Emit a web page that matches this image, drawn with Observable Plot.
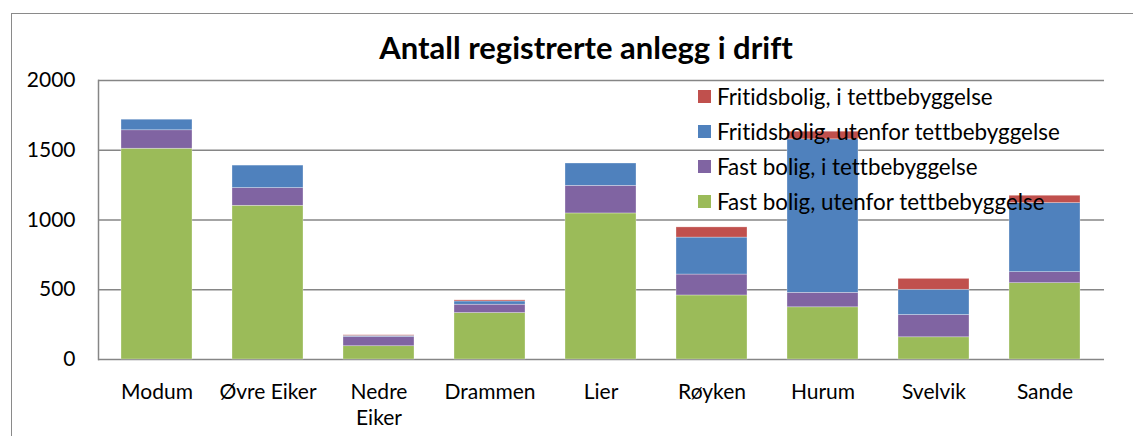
<!DOCTYPE html>
<html>
<head>
<meta charset="utf-8">
<script src="https://cdn.jsdelivr.net/npm/d3@7"></script>
<script src="https://cdn.jsdelivr.net/npm/@observablehq/plot@0.6"></script>
<style>
  html, body { margin: 0; padding: 0; background: #fff; }
  #wrap { position: relative; width: 1133px; height: 436px; overflow: hidden; font-family: Lato, "Open Sans", sans-serif; font-variant-ligatures: none; }
  #outer { position: absolute; left: 11px; top: 13px; right: -10px; bottom: -10px; border-left: 1.5px solid #8a8a8a; border-top: 1.5px solid #8a8a8a; }
  #title { position: absolute; left: 0; width: 1172px; top: 32px; text-align: center; font-weight: bold; font-size: 31px; color: #000; line-height: 1; }
  #legend { position: absolute; left: 698px; top: 79px; font-size: 22.4px; color: #000; }
  #legend .row { display: flex; align-items: center; height: 35px; white-space: nowrap; }
  #legend .sw { width: 13px; height: 13px; margin-right: 6px; flex: none; }
  svg { position: absolute; left: 0; top: 0; font-variant-ligatures: none; }
</style>
</head>
<body>
<div id="wrap"></div>
<script>
const title = "Antall registrerte anlegg i drift";
const kommuner = ["Modum", "Øvre Eiker", "Nedre Eiker", "Drammen", "Lier", "Røyken", "Hurum", "Svelvik", "Sande"];
const seriesNames = [
  "Fast bolig, utenfor tettbebyggelse",
  "Fast bolig, i tettbebyggelse",
  "Fritidsbolig, utenfor tettbebyggelse",
  "Fritidsbolig, i tettbebyggelse"
];
const seriesColors = ["#9BBB59", "#8064A2", "#4F81BD", "#C0504D"];
const fastUtenfor = [1511, 1102, 95, 333, 1047, 459, 374, 159, 547];
const fastI       = [132, 127, 67, 60, 198, 150, 104, 160, 79];
const fritidUtenfor = [76, 161, 7, 23, 160, 265, 1100, 181, 495];
const fritidI     = [0, 0, 5, 8, 0, 73, 55, 78, 53];
const yTicks = [0, 500, 1000, 1500, 2000];

const seriesValues = [fastUtenfor, fastI, fritidUtenfor, fritidI];
const rows = [];
seriesNames.forEach((s, si) => {
  kommuner.forEach((k, ki) => rows.push({kommune: k, serie: s, value: seriesValues[si][ki]}));
});

const wrap = document.getElementById("wrap");

const chart = Plot.plot({
  width: 1133,
  height: 436,
  marginLeft: 98,
  marginRight: 29,
  marginTop: 80,
  marginBottom: 77,
  style: { fontFamily: "Lato, 'Open Sans', sans-serif", background: "transparent" },
  x: { domain: kommuner, paddingInner: 0.36, paddingOuter: 0.18, label: null },
  y: { domain: [0, 2000], label: null },
  color: { domain: seriesNames, range: seriesColors },
  marks: [
    Plot.ruleY(yTicks, { stroke: "#868686", strokeWidth: 1.5 }),
    Plot.barY(rows, Plot.stackY({
      x: "kommune", y: "value", fill: "serie",
      order: seriesNames,
      stroke: "#fff", strokeWidth: 0.6, strokeOpacity: 0.5
    })),
    Plot.frame({ anchor: "left", stroke: "#868686", strokeWidth: 1.5 }),
    Plot.axisY({ ticks: yTicks, tickSize: 0, tickPadding: 23, fontSize: 21, tickFormat: d => String(d), fill: "#000" }),
    Plot.axisX({ tickSize: 0, tickPadding: 22, fontSize: 21, lineHeight: 1.2, fill: "#000",
      tickFormat: d => d === "Nedre Eiker" ? "Nedre\nEiker" : d })
  ]
});
wrap.appendChild(chart);

const outer = document.createElement("div");
outer.id = "outer";
wrap.appendChild(outer);

const t = document.createElement("div");
t.id = "title";
t.textContent = title;
wrap.appendChild(t);

const legend = document.createElement("div");
legend.id = "legend";
const legendOrder = seriesNames.map((s, i) => i).reverse();
legendOrder.forEach(i => {
  const r = document.createElement("div");
  r.className = "row";
  const sw = document.createElement("span");
  sw.className = "sw";
  sw.style.background = seriesColors[i];
  const tx = document.createElement("span");
  tx.textContent = seriesNames[i];
  r.appendChild(sw); r.appendChild(tx);
  legend.appendChild(r);
});
wrap.appendChild(legend);
</script>
</body>
</html>
